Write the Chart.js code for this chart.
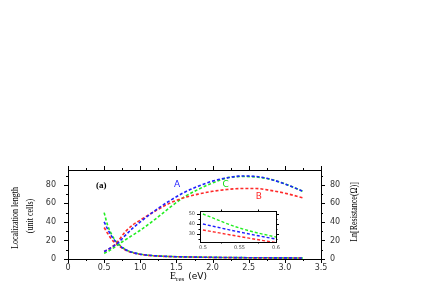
<!DOCTYPE html>
<html>
<head>
<meta charset="utf-8">
<script src="https://cdn.jsdelivr.net/npm/chart.js@4/dist/chart.umd.min.js"></script>
<style>
  html, body { margin: 0; padding: 0; background: #fff; }
  #wrap { position: relative; width: 445px; height: 282px; }
  #main { position: absolute; left: 0; top: 0; }
  #inset { position: absolute; left: 180px; top: 203px; }
</style>
</head>
<body>
<div id="wrap">
  <canvas id="main" width="445" height="282"></canvas>
  <canvas id="inset" width="105" height="52"></canvas>
</div>
<script>
// localization length vs energy (left axis)
const locE   = [0.5, 0.55, 0.6, 0.65, 0.7, 0.8, 0.9, 1.0, 1.2, 1.4, 1.6, 1.8, 2.0, 2.2, 2.4, 2.6, 2.8, 3.0, 3.25];
const locA   = [8, 10, 12.5, 15, 18, 26, 33.5, 40, 52, 62.5, 71.5, 78.5, 84, 87.5, 89.5, 89, 86, 81, 73];
const locB   = [8, 10, 12.5, 15.5, 20, 30, 37, 42, 51.5, 60, 66, 70, 73, 75, 76, 76, 74, 71, 66];
const locC   = [6, 8, 10.5, 13, 16, 21, 26, 31, 42.5, 55, 66.5, 75, 82, 87.5, 89, 88.5, 86, 81, 73];

// ln resistance vs energy (right axis)
const resE   = [0.5, 0.55, 0.6, 0.65, 0.7, 0.8, 0.9, 1.0, 1.2, 1.5, 2.0, 2.5, 3.0, 3.25];
const resA   = [40, 32, 25, 19.5, 15.5, 10, 7, 5.2, 3.5, 2.5, 1.8, 1.4, 1.2, 1.1];
const resB   = [34, 27.5, 21.5, 17.5, 14.5, 9.5, 6.5, 5, 3.3, 2.4, 1.7, 1.3, 1.1, 1.0];
const resC   = [50, 36, 27, 20.5, 16, 10, 7, 5.2, 3.5, 2.5, 1.8, 1.4, 1.2, 1.1];

const xTicks  = [0, 0.5, 1, 1.5, 2, 2.5, 3, 3.5];
const yTicks  = [0, 20, 40, 60, 80];
const insetXTicks = [0.5, 0.55, 0.6];
const insetYTicks = [30, 40, 50];

const BLUE = '#1f1fff', RED = '#ff2a2a', GREEN = '#22ee22';
const pts = (xs, ys) => xs.map((x, i) => ({ x, y: ys[i] }));

const line = (label, xs, ys, color, axis) => ({
  label, data: pts(xs, ys), yAxisID: axis,
  borderColor: color, borderWidth: 1.6, borderDash: [3, 2],
  pointRadius: 0, fill: false, tension: 0.4, cubicInterpolationMode: 'monotone',
});

// ticks drawn by hand so minor ticks and top ticks show up
function tickPlugin(cfg) {
  return {
    id: 'ticks',
    afterDraw(chart) {
      const { ctx, chartArea: a, scales } = chart;
      const xs = scales.x, ys = scales.y;
      ctx.save();
      ctx.strokeStyle = '#000';
      ctx.lineWidth = 1;
      ctx.strokeRect(a.left + 0.5, a.top + 0.5, a.right - a.left, a.bottom - a.top);
      ctx.beginPath();
      cfg.xMajor.forEach(v => {
        const p = Math.round(xs.getPixelForValue(v)) + 0.5;
        ctx.moveTo(p, a.bottom); ctx.lineTo(p, a.bottom + cfg.len);
        ctx.moveTo(p, a.top); ctx.lineTo(p, a.top - cfg.len);
      });
      cfg.xMinor.forEach(v => {
        const p = Math.round(xs.getPixelForValue(v)) + 0.5;
        ctx.moveTo(p, a.bottom); ctx.lineTo(p, a.bottom + cfg.len / 2);
        ctx.moveTo(p, a.top); ctx.lineTo(p, a.top - cfg.len / 2);
      });
      cfg.yMajor.forEach(v => {
        const p = Math.round(ys.getPixelForValue(v)) + 0.5;
        ctx.moveTo(a.left, p); ctx.lineTo(a.left - cfg.len, p);
        ctx.moveTo(a.right, p); ctx.lineTo(a.right + cfg.len, p);
      });
      cfg.yMinor.forEach(v => {
        const p = Math.round(ys.getPixelForValue(v)) + 0.5;
        ctx.moveTo(a.left, p); ctx.lineTo(a.left - cfg.len / 2, p);
        ctx.moveTo(a.right, p); ctx.lineTo(a.right + cfg.len / 2, p);
      });
      ctx.stroke();
      ctx.restore();
    },
  };
}

const labelPlugin = {
  id: 'labels',
  afterDraw(chart) {
    const { ctx, scales: { x, y } } = chart;
    ctx.save();
    ctx.textAlign = 'center';
    ctx.textBaseline = 'middle';
    ctx.font = 'bold 9px "Liberation Serif", serif';
    ctx.fillStyle = '#000';
    ctx.fillText('(a)', x.getPixelForValue(0.46), y.getPixelForValue(79));
    ctx.font = '9px "DejaVu Sans", sans-serif';
    ctx.fillStyle = BLUE;  ctx.fillText('A', x.getPixelForValue(1.51), y.getPixelForValue(80.3));
    ctx.fillStyle = '#11dd11'; ctx.fillText('C', x.getPixelForValue(2.18), y.getPixelForValue(79.8));
    ctx.fillStyle = RED;   ctx.fillText('B', x.getPixelForValue(2.64), y.getPixelForValue(67));

    // axis titles, narrow serif
    ctx.fillStyle = '#000';
    ctx.font = '10px "Liberation Serif", serif';
    const vtext = (t, cx, cy, sx) => {
      ctx.save();
      ctx.translate(cx, cy);
      ctx.rotate(-Math.PI / 2);
      ctx.scale(sx, 1);
      ctx.fillText(t, 0, 0);
      ctx.restore();
    };
    vtext('Localization length', 15, 218, 0.8);
    vtext('(unit cells)', 30, 216, 0.8);
    vtext('Ln[Resistance(\u03a9)]', 354, 212, 0.8);

    // x title with subscript
    ctx.textAlign = 'left';
    ctx.textBaseline = 'alphabetic';
    let cx = 170;
    ctx.font = '10px "Liberation Serif", serif';
    ctx.fillText('E', cx, 279); cx += ctx.measureText('E').width;
    ctx.font = '7px "Liberation Serif", serif';
    ctx.fillText('res', cx, 281); cx += ctx.measureText('res').width + 4;
    ctx.font = '9px "DejaVu Sans", sans-serif';
    ctx.fillText('(eV)', cx, 279);
    ctx.restore();
  },
};

const tickFont = { family: '"DejaVu Sans", sans-serif', size: 8 };
const noGrid = { display: false, drawTicks: false };

new Chart(document.getElementById('main'), {
  type: 'line',
  data: {
    datasets: [
      line('A loc', locE, locA, BLUE, 'y'),
      line('B loc', locE, locB, RED, 'y'),
      line('C loc', locE, locC, GREEN, 'y'),
      line('A res', resE, resA, BLUE, 'y2'),
      line('B res', resE, resB, RED, 'y2'),
      line('C res', resE, resC, GREEN, 'y2'),
    ],
  },
  options: {
    responsive: false,
    animation: false,
    layout: { padding: { top: 170, left: 0, right: 0, bottom: 0 } },
    plugins: { legend: { display: false }, tooltip: { enabled: false } },
    scales: {
      x: {
        type: 'linear', min: 0, max: 3.5,
        afterBuildTicks: s => { s.ticks = xTicks.map(v => ({ value: v })); },
        afterFit: s => { s.height = 23; },
        grid: noGrid, border: { display: false },
        ticks: { font: tickFont, color: '#333', padding: 4, maxRotation: 0 },
      },
      y: {
        position: 'left', min: 0, max: 96,
        afterBuildTicks: s => { s.ticks = yTicks.map(v => ({ value: v })); },
        afterFit: s => { s.width = 68; },
        grid: noGrid, border: { display: false },
        ticks: { font: tickFont, color: '#333', padding: 12 },
      },
      y2: {
        position: 'right', min: 0, max: 96,
        afterBuildTicks: s => { s.ticks = yTicks.map(v => ({ value: v })); },
        afterFit: s => { s.width = 124; },
        grid: noGrid, border: { display: false },
        ticks: { font: tickFont, color: '#333', padding: 9 },
      },
    },
  },
  plugins: [tickPlugin({
    len: 4,
    xMajor: xTicks, xMinor: [0.25, 0.75, 1.25, 1.75, 2.25, 2.75, 3.25],
    yMajor: yTicks, yMinor: [10, 30, 50, 70, 90],
  }), labelPlugin],
});

// inset: zoom on the resistance curves near 0.5-0.6 eV
const near = (xs, ys) => xs.map((x, i) => ({ x, y: ys[i] })).filter(p => p.x <= 0.65);
const insetLine = (data, color) => ({
  data, borderColor: color, borderWidth: 1.4, borderDash: [3, 2],
  pointRadius: 0, fill: false, tension: 0.4, cubicInterpolationMode: 'monotone',
});
const insetFont = { family: '"DejaVu Sans", sans-serif', size: 5 };

new Chart(document.getElementById('inset'), {
  type: 'line',
  data: {
    datasets: [
      insetLine(near(resE, resC), GREEN),
      insetLine(near(resE, resA), BLUE),
      insetLine(near(resE, resB), RED),
    ],
  },
  options: {
    responsive: false,
    animation: false,
    layout: { padding: { top: 6, right: 0 } },
    plugins: { legend: { display: false }, tooltip: { enabled: false } },
    scales: {
      x: {
        type: 'linear', min: 0.496, max: 0.6,
        afterBuildTicks: s => { s.ticks = insetXTicks.map(v => ({ value: v })); },
        afterFit: s => { s.height = 13; },
        grid: noGrid, border: { display: false },
        ticks: { font: insetFont, color: '#444', padding: 3, maxRotation: 0, callback: v => String(v) },
      },
      y: {
        min: 22, max: 53,
        afterBuildTicks: s => { s.ticks = insetYTicks.map(v => ({ value: v })); },
        afterFit: s => { s.width = 20; },
        grid: noGrid, border: { display: false },
        ticks: { font: insetFont, color: '#444', padding: 5 },
      },
      yr: {
        position: 'right', min: 22, max: 53, display: true,
        afterFit: s => { s.width = 9; },
        grid: noGrid, border: { display: false },
        ticks: { display: false },
      },
    },
  },
  plugins: [tickPlugin({
    len: 3,
    xMajor: [], xMinor: [0.525, 0.575],
    yMajor: insetYTicks, yMinor: [25, 35, 45],
  })],
});
</script>
</body>
</html>
